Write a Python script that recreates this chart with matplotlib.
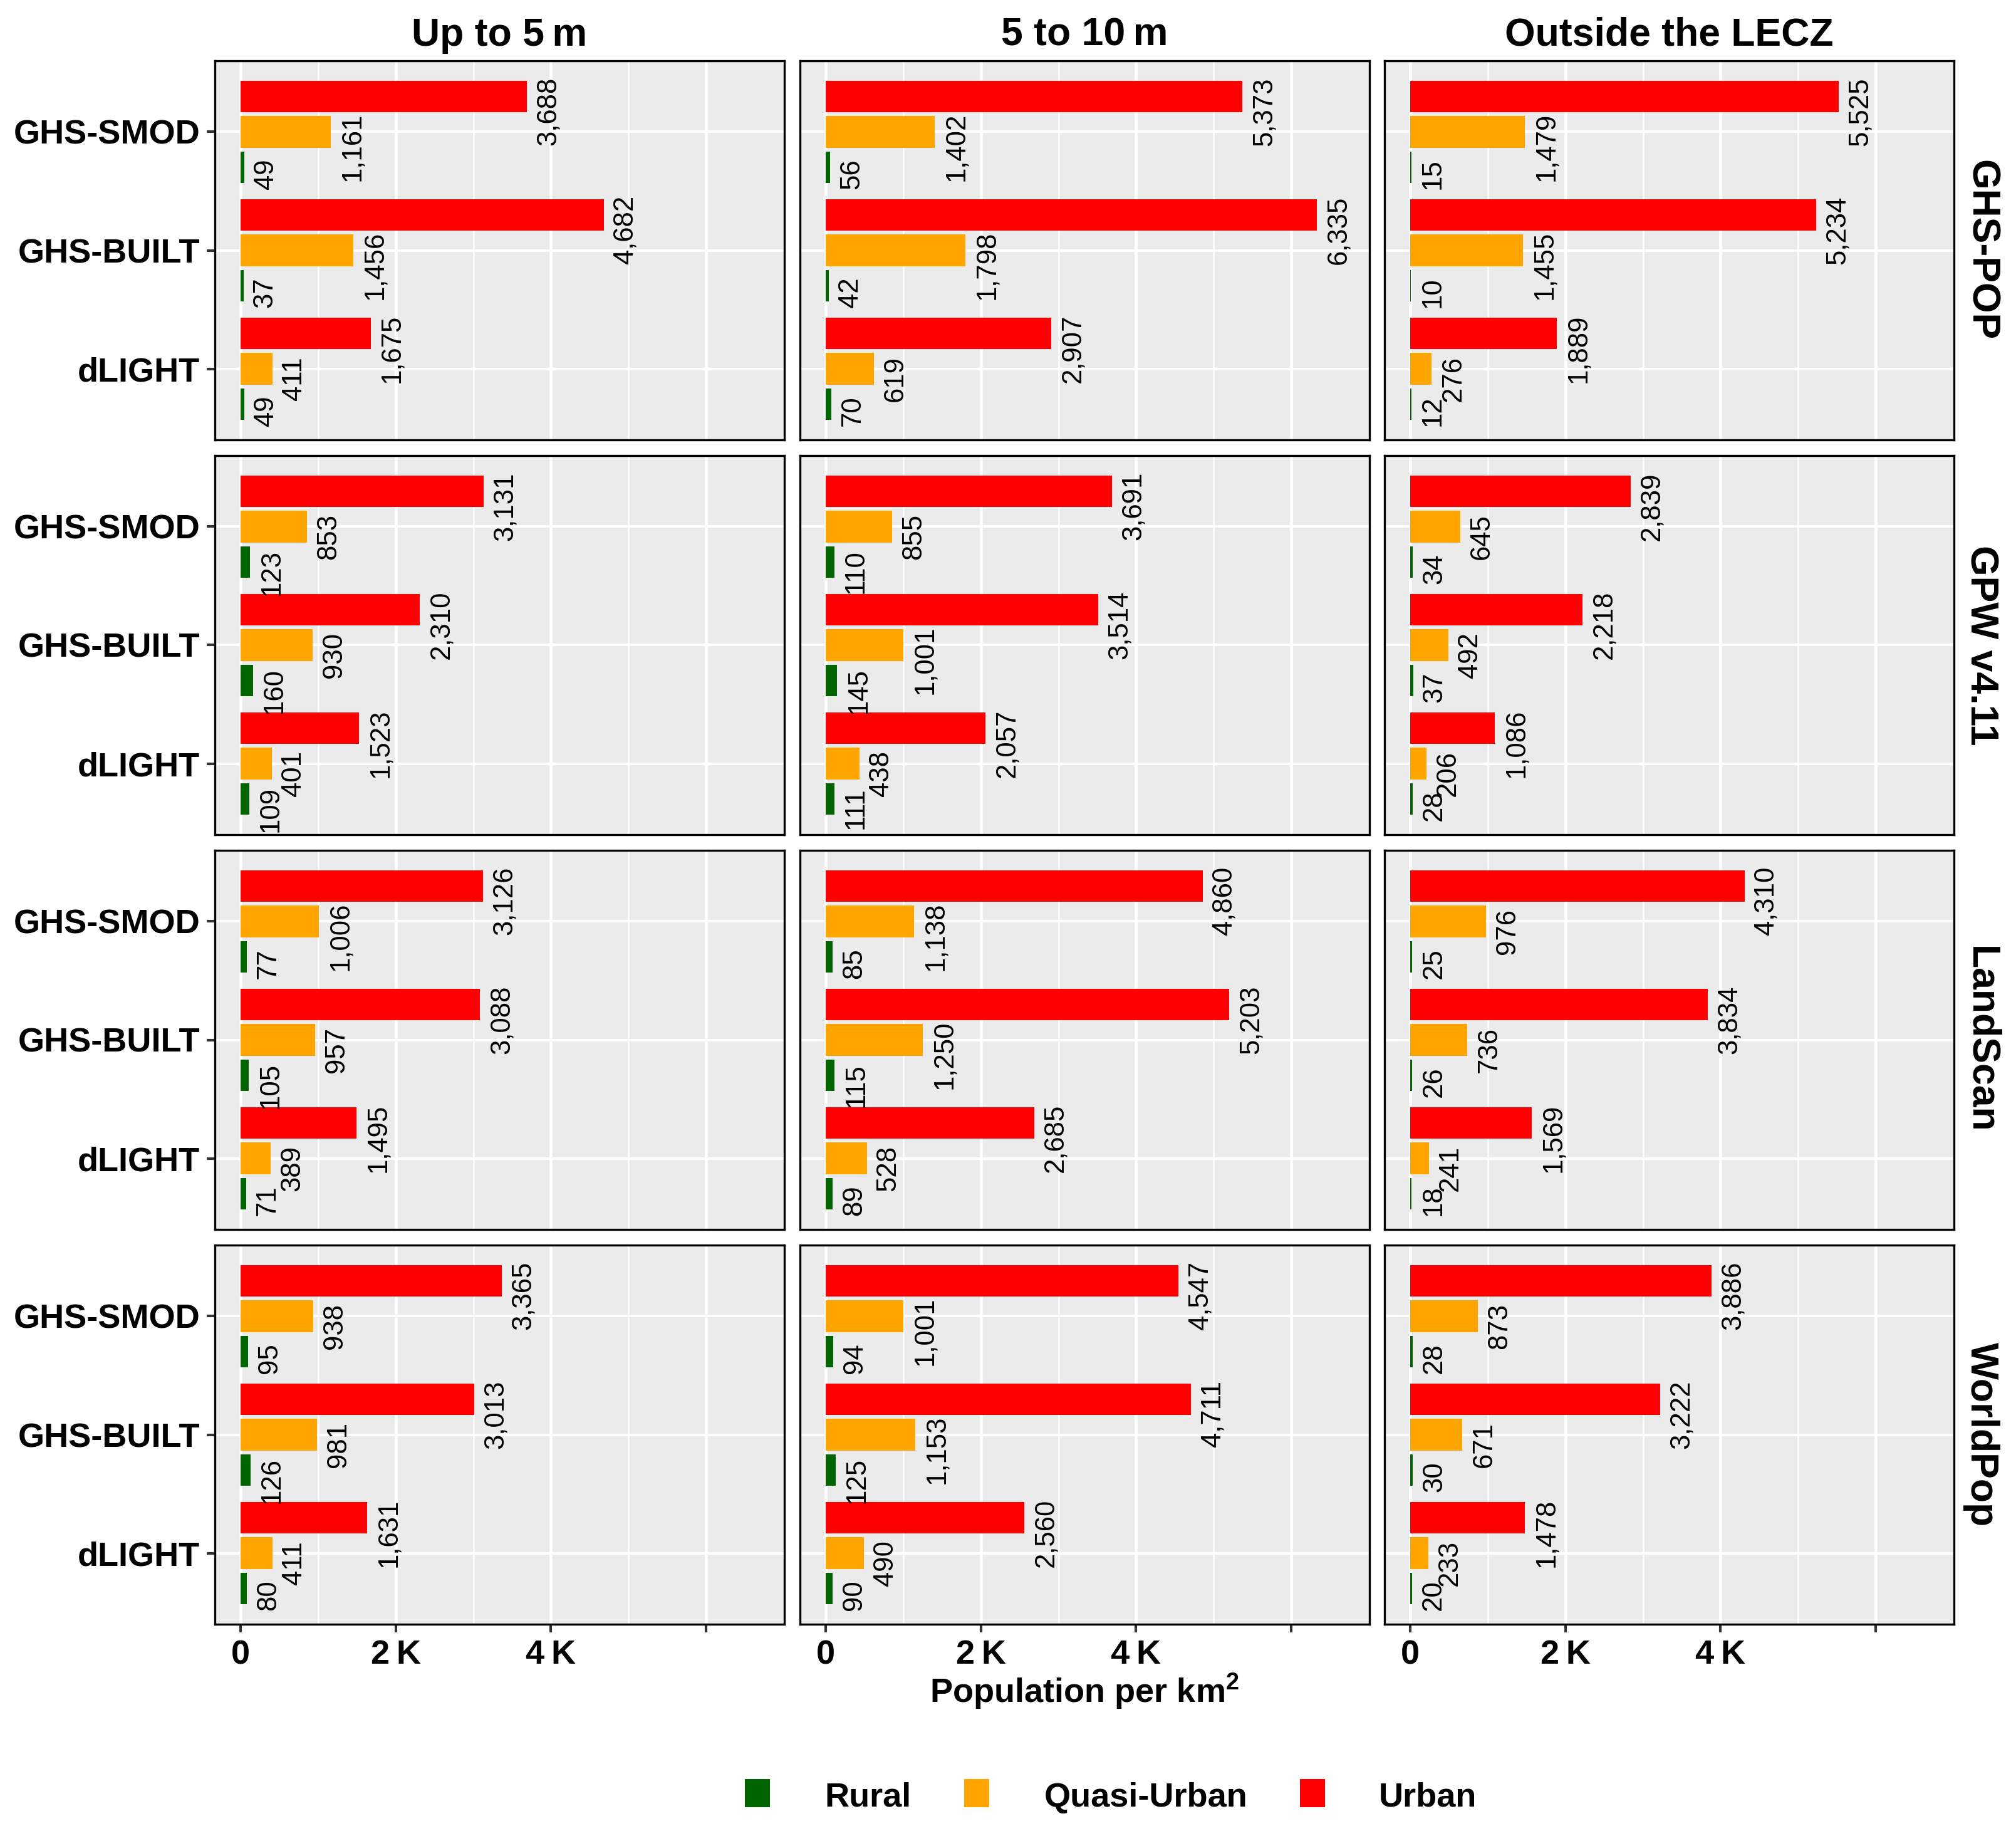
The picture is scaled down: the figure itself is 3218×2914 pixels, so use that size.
import matplotlib
matplotlib.use('Agg')
import matplotlib.pyplot as plt
from matplotlib.patches import Rectangle

plt.rcParams['font.family'] = ['Liberation Sans', 'DejaVu Sans']
plt.rcParams['mathtext.fontset'] = 'custom'
plt.rcParams['mathtext.rm'] = 'Liberation Sans:bold'
plt.rcParams['mathtext.bf'] = 'Liberation Sans:bold'

# ---------------- data ----------------
datasets = ['GHS-POP', 'GPW v4.11', 'LandScan', 'WorldPop']
zones = ['Up to 5\u2009m', '5 to 10\u2009m', 'Outside the LECZ']
methods = ['GHS-SMOD', 'GHS-BUILT', 'dLIGHT']
classes = ['Rural', 'Quasi-Urban', 'Urban']
class_colors = ['#006400', '#FFA500', '#FF0000']
x_breaks = [0, 2000, 4000, 6000]
x_labels = ['0', '2\u2009K', '4\u2009K', '']

# rows: zones (Up to 5 m, 5 to 10 m, Outside), cols: methods (GHS-SMOD, GHS-BUILT, dLIGHT)
ghspop_rural = [[49, 37, 49], [56, 42, 70], [15, 10, 12]]
ghspop_quasi = [[1161, 1456, 411], [1402, 1798, 619], [1479, 1455, 276]]
ghspop_urban = [[3688, 4682, 1675], [5373, 6335, 2907], [5525, 5234, 1889]]

gpw_rural = [[123, 160, 109], [110, 145, 111], [34, 37, 28]]
gpw_quasi = [[853, 930, 401], [855, 1001, 438], [645, 492, 206]]
gpw_urban = [[3131, 2310, 1523], [3691, 3514, 2057], [2839, 2218, 1086]]

landscan_rural = [[77, 105, 71], [85, 115, 89], [25, 26, 18]]
landscan_quasi = [[1006, 957, 389], [1138, 1250, 528], [976, 736, 241]]
landscan_urban = [[3126, 3088, 1495], [4860, 5203, 2685], [4310, 3834, 1569]]

worldpop_rural = [[95, 126, 80], [94, 125, 90], [28, 30, 20]]
worldpop_quasi = [[938, 981, 411], [1001, 1153, 490], [873, 671, 233]]
worldpop_urban = [[3365, 3013, 1631], [4547, 4711, 2560], [3886, 3222, 1478]]

rural_all = [ghspop_rural, gpw_rural, landscan_rural, worldpop_rural]
quasi_all = [ghspop_quasi, gpw_quasi, landscan_quasi, worldpop_quasi]
urban_all = [ghspop_urban, gpw_urban, landscan_urban, worldpop_urban]

# ---------------- layout ----------------
W, H, DPI = 3218, 2914, 300
fig = plt.figure(figsize=(W / DPI, H / DPI), dpi=DPI)
fig.patch.set_facecolor('white')

col_x = [343, 1277, 2210]
pw = 909
row_y = [97, 727, 1357, 1987]
ph = 605


def fx(px):
    return px / W


def fy(py):
    return 1 - py / H


method_pos = {'GHS-SMOD': 3, 'GHS-BUILT': 2, 'dLIGHT': 1}
class_off = [-0.3, 0.0, 0.3]
bar_h = 0.8 / 3

anns = []
for i, ds in enumerate(datasets):
    series = [rural_all[i], quasi_all[i], urban_all[i]]
    for j, zone in enumerate(zones):
        ax = fig.add_axes([fx(col_x[j]), fy(row_y[i] + ph), pw / W, ph / H])
        ax.set_facecolor('#EBEBEB')
        ax.set_xlim(-333, 7010)
        ax.set_ylim(0.4, 3.6)
        ax.set_xticks(x_breaks)
        ax.set_xticks([1000, 3000, 5000], minor=True)
        ax.set_yticks([1, 2, 3])
        ax.grid(which='major', axis='x', color='white', lw=1.1)
        ax.grid(which='minor', axis='x', color='white', lw=0.6)
        ax.grid(which='major', axis='y', color='white', lw=1.0)
        ax.set_axisbelow(True)
        for k, cls in enumerate(classes):
            vals = [series[k][j][m] for m in range(3)]
            ys = [method_pos[m] + class_off[k] for m in methods]
            ax.barh(ys, vals, height=bar_h, color=class_colors[k], lw=0)
            for v, y in zip(vals, ys):
                a = ax.annotate(f'{v:,}', xy=(v, y), xytext=(14, 0),
                                textcoords='offset pixels', rotation=90,
                                ha='left', va='center', fontsize=10.5,
                                color='black')
                anns.append(a)
        for sp in ax.spines.values():
            sp.set_color('black')
            sp.set_linewidth(0.8)
        ax.tick_params(which='minor', length=0)
        if i == len(datasets) - 1:
            ax.set_xticklabels(x_labels, fontsize=13, fontweight='bold', color='black')
            ax.tick_params(axis='x', which='major', length=3.1, width=1.0,
                           color='#333333', pad=2.7)
        else:
            ax.set_xticklabels([])
            ax.tick_params(axis='x', which='major', length=0)
        if j == 0:
            ax.set_yticklabels(['dLIGHT', 'GHS-BUILT', 'GHS-SMOD'], fontsize=13,
                               fontweight='bold', color='black')
            ax.tick_params(axis='y', which='major', length=3.1, width=1.0,
                           color='#333333', pad=2.6)
        else:
            ax.set_yticklabels([])
            ax.tick_params(axis='y', which='major', length=0)

# column strips
for j, zone in enumerate(zones):
    cx = col_x[j] + pw / 2
    fig.text(fx(cx), fy(72.5), zone, ha='center', va='baseline', fontsize=15,
             fontweight='bold', color='black')

# row strips
for i, ds in enumerate(datasets):
    cy = row_y[i] + ph / 2
    fig.text(fx(3162), fy(cy), ds, ha='center', va='center', rotation=270,
             fontsize=15, fontweight='bold', color='black')

# axis title
fig.text(fx(1731), fy(2717), r'Population per km$^{\mathbf{2}}$', ha='center',
         va='baseline', fontsize=13, fontweight='bold', color='black')

# legend
key_x = [1189, 1539, 2075]
txt_x = [1316, 1667, 2201]
for k, cls in enumerate(classes):
    fig.patches.append(Rectangle((fx(key_x[k]), fy(2884)), 40 / W, 45 / H,
                                 transform=fig.transFigure, facecolor=class_colors[k],
                                 edgecolor='none'))
    fig.text(fx(txt_x[k]), fy(2882.5), cls, ha='left', va='baseline', fontsize=13,
             fontweight='bold', color='black')

# shift value labels: top of text sits 0.28 of its length above bar centre
fig.canvas.draw()
renderer = fig.canvas.get_renderer()
for a in anns:
    bb = a.get_window_extent(renderer)
    a.xyann = (14, -0.22 * bb.height)

fig.savefig('out.png', dpi=DPI, facecolor='white')
